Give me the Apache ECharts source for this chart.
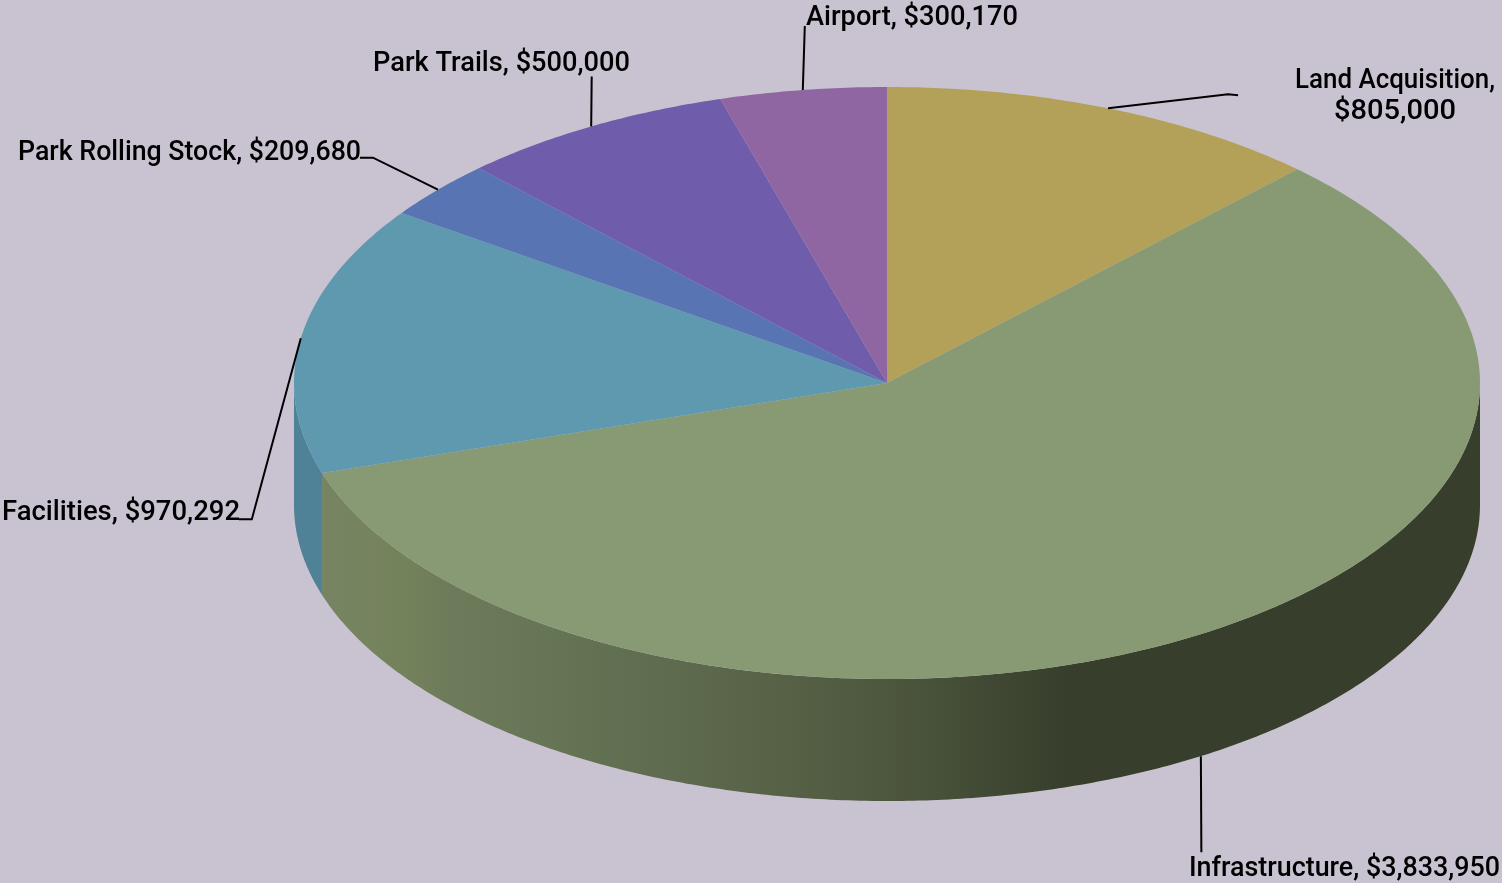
<!DOCTYPE html>
<html>
<head>
<meta charset="utf-8">
<style>
  html, body { margin: 0; padding: 0; background: #c9c3d1; }
  #chart { width: 1502px; height: 883px; }
</style>
<script src="https://cdn.jsdelivr.net/npm/echarts@6/dist/echarts.min.js"></script>
</head>
<body>
<div id="chart"></div>
<script>
// Capital budget by program, clockwise from twelve o'clock.
const categories = ['Land Acquisition', 'Infrastructure', 'Facilities', 'Park Rolling Stock', 'Park Trails', 'Airport'];
const amounts = [805000, 3833950, 970292, 209680, 500000, 300170];

// Disc geometry and palette.
const disc = { cx: 887, cy: 383, rx: 593, ry: 296, depth: 122 };
const topColors = ['#b3a15a', '#889a73', '#5f99af', '#5974b3', '#6f5cab', '#8f66a1'];
const sideColors = ['#6f6236', '#778564', '#4f8296', '#3d5079', '#4a3e73', '#60446c'];

// Leader routes, as offsets from each slice's rim point.
const leaderBends = [
  [[120, -14], [130, -13]],
  [[0.5, 96]],
  [[-49, 181], [-62, 181]],
  [[-65, -32], [-78, -32]],
  [[0.5, -50]],
  [[2, -64]]
];
// Label lines per slice: left edge, vertical centre and set width of each line.
const labelSpots = [
  [{ x: 1295, y: 81, w: 200 }, { x: 1334, y: 112, w: 122 }],
  [{ x: 1189, y: 869, w: 311 }],
  [{ x: 2, y: 513, w: 238 }],
  [{ x: 18, y: 153, w: 343 }],
  [{ x: 373, y: 64, w: 257 }],
  [{ x: 806, y: 18, w: 212 }]
];
const labelFont = '500 28px Roboto, "Liberation Sans", sans-serif';

const total = amounts.reduce((a, b) => a + b, 0);
let running = 0;
const seriesData = amounts.map(v => {
  const row = [v, running];
  running += v;
  return row;
});

const TAU = Math.PI * 2;
const toAngle = v => v / total * TAU;
const rim = (a, drop) => [
  disc.cx + disc.rx * Math.sin(a),
  disc.cy - disc.ry * Math.cos(a) + (drop || 0)
];
function arc(a0, a1, drop) {
  const n = Math.max(2, Math.ceil(Math.abs(a1 - a0) / 0.01));
  const pts = [];
  for (let i = 0; i <= n; i++) pts.push(rim(a0 + (a1 - a0) * i / n, drop));
  return pts;
}
const moneyText = v => '$' + v.toLocaleString('en-US');

// Horizontal stretch that brings a line of text to its set width.
const ruler = document.createElement('canvas').getContext('2d');
function stretchFor(text, width) {
  ruler.font = labelFont;
  return width / ruler.measureText(text).width;
}

// Shading of the front wall, running left to right across the disc.
const wallShade = {
  type: 'linear', x: 322, y: 0, x2: 1068, y2: 0, global: true,
  colorStops: [
    { offset: 0, color: '#778463' },
    { offset: 0.11, color: '#74825b' },
    { offset: 0.16, color: '#6f7c5b' },
    { offset: 0.3, color: '#667556' },
    { offset: 0.5, color: '#5d694d' },
    { offset: 0.75, color: '#4e583e' },
    { offset: 1, color: '#373e2c' }
  ]
};

function renderSlice(params, api) {
  const i = params.dataIndex;
  const a0 = toAngle(api.value(1));
  const a1 = a0 + toAngle(api.value(0));
  const children = [];

  // Front wall: only the part of the slice between 90 and 270 degrees faces the viewer.
  const w0 = Math.max(a0, Math.PI / 2);
  const w1 = Math.min(a1, Math.PI * 1.5);
  if (w1 > w0) {
    const wall = arc(w0, w1, 0).concat(arc(w1, w0, disc.depth));
    children.push({
      type: 'polygon',
      shape: { points: wall },
      style: { fill: i === 1 ? wallShade : sideColors[i] }
    });
  }

  // Top face.
  const top = [[disc.cx, disc.cy]].concat(arc(a0, a1, 0));
  children.push({
    type: 'polygon',
    shape: { points: top },
    style: { fill: topColors[i] }
  });

  // Leader line from the middle of the slice's rim.
  const mid = (a0 + a1) / 2;
  const onFront = Math.cos(mid) < -0.3;
  const start = rim(mid, onFront ? disc.depth : 0);
  const route = [start].concat(leaderBends[i].map(o => [start[0] + o[0], start[1] + o[1]]));
  children.push({
    type: 'polyline',
    shape: { points: route },
    style: { stroke: '#000', lineWidth: 2, fill: null }
  });

  // Category and amount label; the wide first slice wraps onto two lines.
  const full = categories[i] + ', ' + moneyText(api.value(0));
  const lines = labelSpots[i].length > 1
    ? [categories[i] + ',', moneyText(api.value(0))]
    : [full];
  lines.forEach((line, k) => {
    const spot = labelSpots[i][k];
    children.push({
      type: 'text',
      x: spot.x,
      y: spot.y,
      scaleX: stretchFor(line, spot.w),
      style: {
        text: line,
        font: labelFont,
        fill: '#000',
        align: 'left',
        verticalAlign: 'middle'
      }
    });
  });

  return { type: 'group', children };
}

const chart = echarts.init(document.getElementById('chart'), null, { renderer: 'canvas' });
chart.setOption({
  animation: false,
  backgroundColor: '#c9c3d1',
  series: [{
    type: 'custom',
    coordinateSystem: 'none',
    silent: true,
    data: seriesData,
    clip: false,
    renderItem: renderSlice
  }]
});
</script>
</body>
</html>
